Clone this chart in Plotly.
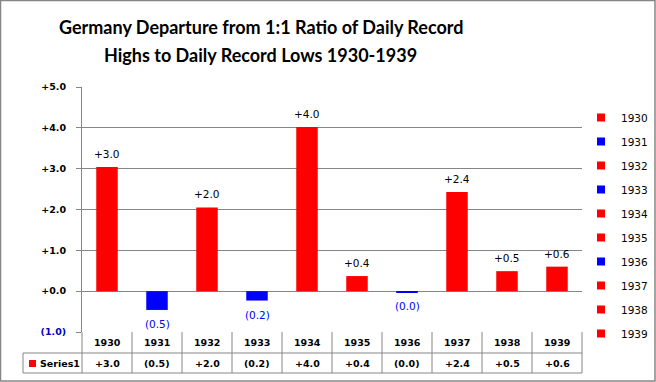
import plotly.graph_objects as go

years = ["1930", "1931", "1932", "1933", "1934", "1935", "1936", "1937", "1938", "1939"]
values = [3.04, -0.46, 2.05, -0.23, 4.02, 0.37, -0.03, 2.43, 0.49, 0.60]
series_name = "Series1"
y_tick_vals = [-1, 0, 1, 2, 3, 4, 5]

RED = "#ff0000"
BLUE = "#0000ff"
GRID = "#868686"


def fmt(v):
    r = round(v, 1)
    if v < 0:
        return "({:.1f})".format(abs(r))
    return "+{:.1f}".format(r)


def fmt_tick(v):
    if v < 0:
        return '<span style="color:#0000cc">({:.1f})</span>'.format(abs(v))
    return "+{:.1f}".format(v)


bar_colors = [RED if v >= 0 else BLUE for v in values]
text_colors = ["#000000" if v >= 0 else BLUE for v in values]
labels = [fmt(v) for v in values]

fig = go.Figure()
fig.add_trace(go.Bar(
    x=years, y=values, width=0.43,
    marker=dict(color=bar_colors, line=dict(width=0)),
    showlegend=False, hoverinfo="skip",
))

for i, yr in enumerate(years):
    fig.add_trace(go.Scatter(
        x=[None], y=[None], mode="markers", name=yr,
        legendgroup=yr,
        marker=dict(symbol="square", size=8, color=bar_colors[i]),
    ))

W, H = 656, 382
L, R, T, B = 82, 74, 87, 50
pw, ph = W - L - R, H - T - B
xr = [-0.5, len(years) - 0.5]
yr_ = [-1, 5]


def px_x(px):
    return (px - L) / pw


def px_y(py):
    return (H - B - py) / ph


def cat_paper(c):
    return (c - xr[0]) / (xr[1] - xr[0])


shapes = []
line = dict(color=GRID, width=1)
row1_bottom = px_y(353)
row2_bottom = px_y(373)
left_edge = px_x(23)
shapes.append(dict(type="line", xref="paper", yref="paper", x0=left_edge, x1=cat_paper(xr[1]),
                   y0=row1_bottom, y1=row1_bottom, line=line))
shapes.append(dict(type="line", xref="paper", yref="paper", x0=left_edge, x1=cat_paper(xr[1]),
                   y0=row2_bottom, y1=row2_bottom, line=line))
shapes.append(dict(type="line", xref="paper", yref="paper", x0=left_edge, x1=left_edge,
                   y0=row1_bottom, y1=row2_bottom, line=line))
for k in range(len(years) + 1):
    xb = cat_paper(k - 0.5)
    shapes.append(dict(type="line", xref="paper", yref="paper", x0=xb, x1=xb,
                       y0=0, y1=row2_bottom, line=line))
shapes.append(dict(type="rect", xref="paper", yref="paper", x0=px_x(29), x1=px_x(36),
                   y0=px_y(367), y1=px_y(360), fillcolor=RED, line=dict(width=0)))
shapes.append(dict(type="rect", xref="paper", yref="paper", x0=px_x(0.5), x1=px_x(655),
                   y0=px_y(381), y1=px_y(0.5), line=dict(color=GRID, width=1.5)))

annotations = []
# data labels above / below bars
for i, v in enumerate(values):
    annotations.append(dict(x=i, xref="x", y=v, yref="y", text=labels[i], showarrow=False,
                            font=dict(family="DejaVu Sans", size=10.5, color=text_colors[i]),
                            xanchor="center", yanchor="middle",
                            yshift=13 if v >= 0 else -14))

tfont = dict(family="DejaVu Sans", size=9.5, color="#000000", weight="bold")
for i, yr in enumerate(years):
    annotations.append(dict(x=cat_paper(i), xref="paper", y=px_y(342.5), yref="paper", text=yr,
                            showarrow=False, font=tfont, xanchor="center", yanchor="middle"))
    annotations.append(dict(x=cat_paper(i), xref="paper", y=px_y(363), yref="paper", text=labels[i],
                            showarrow=False, font=tfont, xanchor="center", yanchor="middle"))
annotations.append(dict(x=px_x(38), xref="paper", y=px_y(363), yref="paper", text=series_name,
                        showarrow=False, font=tfont, xanchor="left", yanchor="middle"))

title_font = dict(family="Lato", size=18, color="#000000", weight="bold")
annotations.append(dict(x=px_x(261), xref="paper", y=px_y(27), yref="paper",
                        text="Germany Departure from 1:1 Ratio of Daily Record",
                        showarrow=False, font=title_font, xanchor="center", yanchor="middle"))
annotations.append(dict(x=px_x(260), xref="paper", y=px_y(55), yref="paper",
                        text="Highs to Daily Record Lows 1930-1939",
                        showarrow=False, font=title_font, xanchor="center", yanchor="middle"))

fig.update_layout(
    width=W, height=H,
    margin=dict(l=L, r=R, t=T, b=B, autoexpand=False),
    paper_bgcolor="#ffffff", plot_bgcolor="#ffffff",
    barmode="overlay",
    shapes=shapes, annotations=annotations,
    showlegend=True,
    legend=dict(x=px_x(581), y=px_y(103), xanchor="left", yanchor="top",
                font=dict(family="DejaVu Sans", size=10.5, color="#000000"),
                tracegroupgap=5, itemwidth=30, bgcolor="rgba(0,0,0,0)"),
    xaxis=dict(type="category", categoryorder="array", categoryarray=years, range=xr,
               showticklabels=False, showgrid=False, zeroline=False, showline=False, ticks=""),
    yaxis=dict(range=yr_, tickvals=y_tick_vals, ticktext=[fmt_tick(v) for v in y_tick_vals],
               tickfont=dict(family="DejaVu Sans", size=9.5, color="#000000", weight="bold"),
               showgrid=True, gridcolor=GRID, gridwidth=1, zeroline=False,
               showline=True, linecolor=GRID, linewidth=1,
               ticks="outside", ticklen=5, tickcolor=GRID, ticklabelstandoff=8),
)

fig.write_html("out.html", config={"displayModeBar": False},
               post_script="document.body.style.margin='0px';document.body.style.overflow='hidden';")
